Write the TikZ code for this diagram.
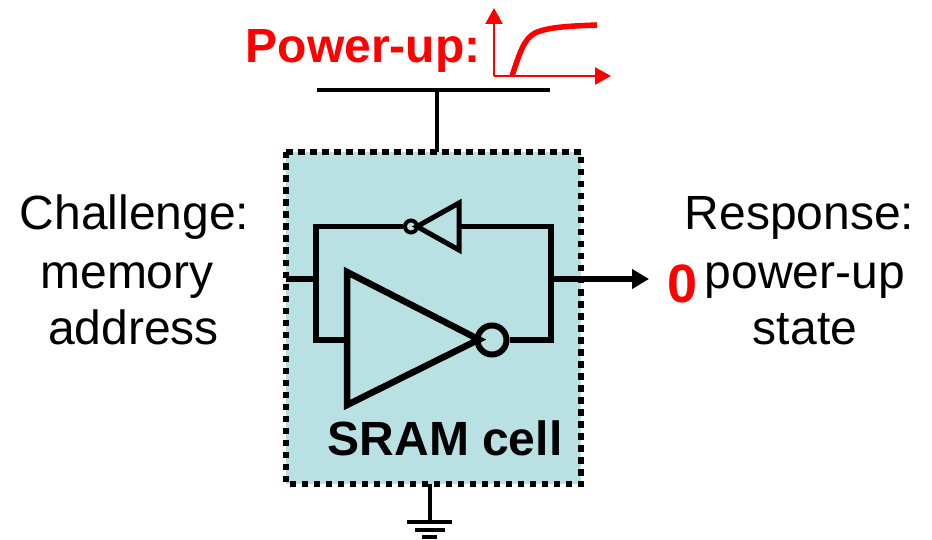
\documentclass[tikz,border=0pt]{standalone}
\usepackage{fontspec}
\setmainfont{Liberation Sans}
\usetikzlibrary{arrows.meta}
\definecolor{cellfill}{HTML}{B9E0E3}
\tikzset{
  x=1pt,y=-1pt,
  wire/.style={line width=5.5pt,line join=miter},
  label/.style={inner sep=0pt,anchor=base,font=\fontsize{48pt}{50pt}\selectfont},
  boldlabel/.style={label,font=\fontsize{48pt}{50pt}\selectfont\bfseries},
  bubble/.style={circle,draw,fill=cellfill,inner sep=0pt},
  redaxis/.style={red,line width=2.5pt,-{Triangle[length=16pt,width=17pt]}},
}
\begin{document}
\begin{tikzpicture}
\useasboundingbox (0,0) rectangle (932,540);
% cell
\fill[cellfill] (286,152) rectangle (581,484);
\coordinate (bTL) at (286,152);
\coordinate (bTR) at (581,152);
\coordinate (bBR) at (581,484);
\coordinate (bBL) at (286,484);
\coordinate (gateT) at (437,152);
\coordinate (gndT) at (430,484);
\coordinate (inL) at (286,279);
\coordinate (outR) at (649,279);
% word line
\coordinate (barL) at (317,90);
\coordinate (barR) at (550,90);
\coordinate (barM) at (437,90);
\draw[line width=4.5pt] (barL) -- (barR);
\draw[line width=4.5pt] (barM) -- (gateT);
% ground
\coordinate (g1) at (430,522);
\coordinate (g1L) at (407,522);\coordinate (g1R) at (452,522);
\coordinate (g2L) at (415,529.5);\coordinate (g2R) at (445,529.5);
\coordinate (g3L) at (422,537);\coordinate (g3R) at (437,537);
\draw[line width=4.5pt] (gndT) -- (g1);
\draw[line width=4pt] (g1L) -- (g1R);
\draw[line width=4pt] (g2L) -- (g2R);
\draw[line width=4pt] (g3L) -- (g3R);
% dotted outline
\draw[line width=6pt,dash pattern=on 6.5pt off 5.5pt] (bTL) -- (bTR) -- (bBR) -- (bBL) -- cycle;
% inverters
\coordinate (sA) at (459,203);\coordinate (sB) at (459,250);\coordinate (sC) at (417,226.5);
\coordinate (bA) at (347,272);\coordinate (bB) at (347,405);\coordinate (bC) at (479,339.5);
\node[bubble,line width=4pt,minimum size=12pt] (sb) at (411,226.5) {};
\node[bubble,line width=6pt,minimum size=29pt] (bb) at (492,340) {};
\coordinate (tl) at (316,226.5);\coordinate (tr) at (551,226.5);
\coordinate (ll) at (316,340);\coordinate (lr) at (551,340);
\coordinate (jl) at (316,279);\coordinate (jr) at (551,279);
\coordinate (sin) at (459,226.5);\coordinate (bin) at (347,340);
\draw[wire] (bin) -- (ll) -- (tl) -- (sb.west);
\draw[wire] (sin) -- (tr) -- (lr) -- (bb.east);
\draw[wire] (inL) -- (jl);
\draw[wire,line width=5.5pt,-{Triangle[length=17pt,width=19pt]}] (jr) -- (outR);
\draw[line width=5pt,line join=miter] (sA) -- (sB) -- (sC) -- cycle;
\draw[line width=6.5pt,line join=miter] (bA) -- (bB) -- (bC) -- cycle;
% power-up curve
\coordinate (org) at (494,76);
\coordinate (yTip) at (494,8);
\coordinate (xTip) at (611,76);
\coordinate (cS) at (512,76);
\coordinate (cE) at (597,25);
\draw[redaxis] (org) -- (yTip);
\draw[redaxis] (org) -- (xTip);
\draw[red,line width=5.5pt] (cS) .. controls (520,52) and (524,39) .. (535,33) .. controls (548,27) and (570,26) .. (cE);
% text
\node[boldlabel,red,anchor=base west] (pw) at (245.5,63) {Power-up:};
\node[label] (c1) at (134.5,230) {Challenge:};
\node[label] (c2) at (127,288) {memory};
\node[label] (c3) at (133.5,344) {address};
\node[label] (r1) at (799.5,230) {Response:};
\node[label] (r2) at (805,288) {power-up};
\node[label] (r3) at (805,344) {state};
\node[boldlabel,red,font=\fontsize{54pt}{56pt}\selectfont\bfseries] (zero) at (683,302) {0};
\node[boldlabel,anchor=base west] (sram) at (327.5,455) {SRAM cell};
\end{tikzpicture}
\end{document}
